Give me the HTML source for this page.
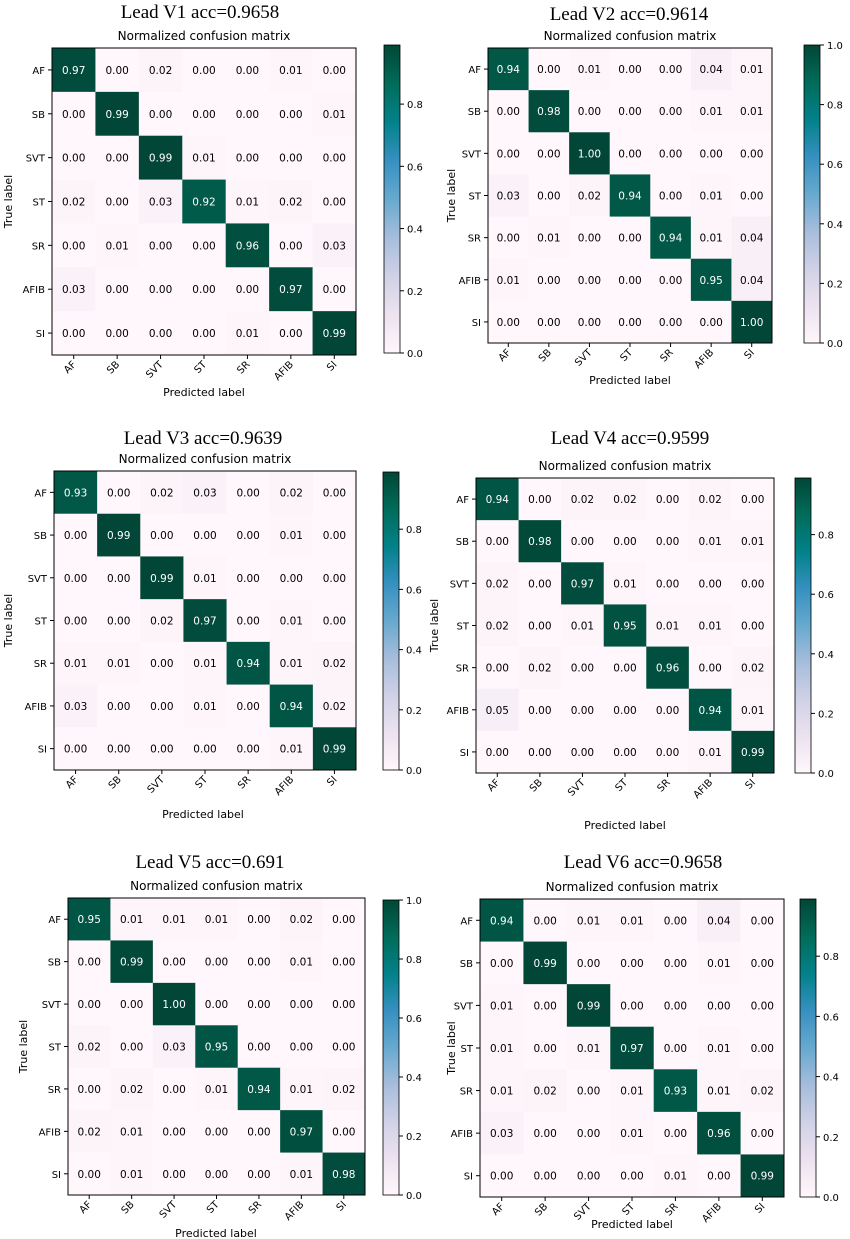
<!DOCTYPE html>
<html><head><meta charset="utf-8"><style>
html,body{margin:0;padding:0;background:#fff;}
svg{display:block;}
</style></head><body>
<svg id="root" width="850" height="1239" viewBox="0 0 850 1239" xmlns="http://www.w3.org/2000/svg"></svg>
<script>
const classLabels = ["AF","SB","SVT","ST","SR","AFIB","SI"];
const titles = ["Lead V1 acc=0.9658","Lead V2 acc=0.9614","Lead V3 acc=0.9639","Lead V4 acc=0.9599","Lead V5 acc=0.691","Lead V6 acc=0.9658"];
const matV1 = [[0.97,0,0.02,0,0,0.01,0],[0,0.99,0,0,0,0,0.01],[0,0,0.99,0.01,0,0,0],[0.02,0,0.03,0.92,0.01,0.02,0],[0,0.01,0,0,0.96,0,0.03],[0.03,0,0,0,0,0.97,0],[0,0,0,0,0.01,0,0.99]];
const matV2 = [[0.94,0,0.01,0,0,0.04,0.01],[0,0.98,0,0,0,0.01,0.01],[0,0,1.00,0,0,0,0],[0.03,0,0.02,0.94,0,0.01,0],[0,0.01,0,0,0.94,0.01,0.04],[0.01,0,0,0,0,0.95,0.04],[0,0,0,0,0,0,1.00]];
const matV3 = [[0.93,0,0.02,0.03,0,0.02,0],[0,0.99,0,0,0,0.01,0],[0,0,0.99,0.01,0,0,0],[0,0,0.02,0.97,0,0.01,0],[0.01,0.01,0,0.01,0.94,0.01,0.02],[0.03,0,0,0.01,0,0.94,0.02],[0,0,0,0,0,0.01,0.99]];
const matV4 = [[0.94,0,0.02,0.02,0,0.02,0],[0,0.98,0,0,0,0.01,0.01],[0.02,0,0.97,0.01,0,0,0],[0.02,0,0.01,0.95,0.01,0.01,0],[0,0.02,0,0,0.96,0,0.02],[0.05,0,0,0,0,0.94,0.01],[0,0,0,0,0,0.01,0.99]];
const matV5 = [[0.95,0.01,0.01,0.01,0,0.02,0],[0,0.99,0,0,0,0.01,0],[0,0,1.00,0,0,0,0],[0.02,0,0.03,0.95,0,0,0],[0,0.02,0,0.01,0.94,0.01,0.02],[0.02,0.01,0,0,0,0.97,0],[0,0.01,0,0,0,0.01,0.98]];
const matV6 = [[0.94,0,0.01,0.01,0,0.04,0],[0,0.99,0,0,0,0.01,0],[0.01,0,0.99,0,0,0,0],[0.01,0,0.01,0.97,0,0.01,0],[0.01,0.02,0,0.01,0.93,0.01,0.02],[0.03,0,0,0.01,0,0.96,0],[0,0,0,0,0.01,0,0.99]];
const colorbarTicks = ["0.0","0.2","0.4","0.6","0.8","1.0"];
const matrices = [matV1,matV2,matV3,matV4,matV5,matV6];

const panels = [
 {tx:200,ty:18,mx:52,my:48,mw:304,mh:307,cx:384,cy:45,ch:308,px:204,py:396,lx:12},
 {tx:629,ty:20,mx:488,my:48,mw:284,mh:295,cx:804,cy:45,ch:298,px:630,py:384,lx:455},
 {tx:203,ty:444,mx:54,my:471,mw:302,mh:299,cx:383,cy:472,ch:298,px:203,py:818,lx:12},
 {tx:630,ty:444,mx:476,my:478,mw:298,mh:295,cx:795,cy:478,ch:295,px:625,py:829,lx:438},
 {tx:210,ty:868,mx:68,my:898,mw:297,mh:297,cx:383,cy:900,ch:295,px:216,py:1237,lx:27},
 {tx:643,ty:868,mx:480,my:899,mw:304,mh:298,cx:800,cy:899,ch:298,px:632,py:1228,lx:455}
];
const stops = ['#fff7fb','#ece2f0','#d0d1e6','#a6bddb','#67a9cf','#3690c0','#02818a','#016c59','#014636'];
function hex(h){return [1,3,5].map(i=>parseInt(h.substr(i,2),16));}
function cmap(t){t=Math.max(0,Math.min(1,t));const p=t*(stops.length-1);const i=Math.min(stops.length-2,Math.floor(p));const f=p-i;const a=hex(stops[i]),b=hex(stops[i+1]);return 'rgb('+a.map((v,k)=>Math.round(v+(b[k]-v)*f)).join(',')+')';}
const NS='http://www.w3.org/2000/svg';
const root=document.getElementById('root');
function el(tag,attrs,parent,text){const e=document.createElementNS(NS,tag);for(const k in attrs)e.setAttribute(k,attrs[k]);if(text!==undefined)e.textContent=text;(parent||root).appendChild(e);return e;}
const defs=el('defs',{});
const grad=el('linearGradient',{id:'cbg',x1:0,y1:1,x2:0,y2:0},defs);
stops.forEach((s,i)=>el('stop',{offset:(i/(stops.length-1)),'stop-color':s},grad));
const SANS='DejaVu Sans, Liberation Sans, sans-serif';
panels.forEach((P,pi)=>{
  const M=matrices[pi];
  let vmax=0;M.forEach(r=>r.forEach(v=>{if(v>vmax)vmax=v;}));
  const g=el('g',{});
  
  
  const t=el('text',{x:P.tx,y:P.ty,'text-anchor':'middle','font-family':'Liberation Serif, serif','font-size':19},g,titles[pi]);
  
  
  const st=el('text',{x:P.mx+P.mw/2,y:P.my-8,'text-anchor':'middle','font-family':SANS,'font-size':12},g,'Normalized confusion matrix');
  
  
  const n=classLabels.length,cw=P.mw/n,chh=P.mh/n;
  const xs=i=>P.mx+i*cw, ys=j=>P.my+j*chh;
  M.forEach((row,r)=>row.forEach((v,c)=>{
    const rc=el('rect',{x:xs(c),y:ys(r),width:cw+0.5,height:chh+0.5,fill:cmap(v/vmax)},g);
    
    
    const tx=el('text',{x:xs(c)+cw/2,y:ys(r)+chh/2+4,'text-anchor':'middle','font-family':SANS,'font-size':10.5,fill:v>vmax/2?'#fff':'#000'},g,v.toFixed(2));
    
    
  }));
  const fr=el('rect',{x:P.mx,y:P.my,width:P.mw,height:P.mh,fill:'none',stroke:'#000','stroke-width':1},g);
  
  
  classLabels.forEach((lab,i)=>{
    el('line',{x1:P.mx-4,x2:P.mx,y1:ys(i)+chh/2,y2:ys(i)+chh/2,stroke:'#000'},g);
    const yl=el('text',{x:P.mx-7,y:ys(i)+chh/2+4,'text-anchor':'end','font-family':SANS,'font-size':10},g,lab);
    
    
    const xx=xs(i)+cw/2,yy=P.my+P.mh;
    el('line',{x1:xx,x2:xx,y1:yy,y2:yy+4,stroke:'#000'},g);
    const xl=el('text',{x:xx+3,y:yy+10,'text-anchor':'end','font-family':SANS,'font-size':10,transform:'rotate(-45 '+(xx+3)+' '+(yy+10)+')'},g,lab);
    
    
  });
  const pl=el('text',{x:P.px,y:P.py,'text-anchor':'middle','font-family':SANS,'font-size':11},g,'Predicted label');
  
  
  const ly=P.my+P.mh/2;
  const tl=el('text',{x:P.lx,y:ly,'text-anchor':'middle','font-family':SANS,'font-size':11,transform:'rotate(-90 '+P.lx+' '+ly+')'},g,'True label');
  
  
  const cb=el('rect',{x:P.cx,y:P.cy,width:16,height:P.ch,fill:'url(#cbg)',stroke:'#000','stroke-width':0.8},g);
  
  
  colorbarTicks.forEach(tk=>{
    const v=parseFloat(tk); if(v>vmax+1e-9) return;
    const y=P.cy+P.ch-(v/vmax)*P.ch;
    el('line',{x1:P.cx+16,x2:P.cx+20,y1:y,y2:y,stroke:'#000'},g);
    const ct=el('text',{x:P.cx+23,y:y+4,'font-family':SANS,'font-size':10},g,tk);
    
    
  });
});
</script>
</body></html>
